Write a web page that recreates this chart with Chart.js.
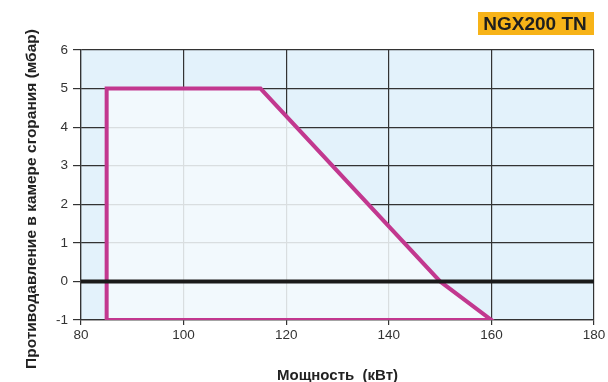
<!DOCTYPE html>
<html>
<head>
<meta charset="utf-8">
<script src="https://cdn.jsdelivr.net/npm/chart.js@4.4.0/dist/chart.umd.min.js"></script>
<style>
  html, body { margin: 0; padding: 0; background: #fff; }
  #wrap { width: 608px; height: 382px; position: relative; }
</style>
</head>
<body>
<div id="wrap"><canvas id="chart" width="608" height="382"></canvas></div>
<script>
// operating envelope (power kW, back pressure mbar)
const envelopePower = [85, 85, 115, 150, 160, 85];
const envelopePressure = [-1, 5, 5, 0, -1, -1];
const zeroLinePower = [80, 180];
const zeroLinePressure = [0, 0];
const xTicks = [80, 100, 120, 140, 160, 180];
const yTicks = [-1, 0, 1, 2, 3, 4, 5, 6];
const modelName = 'NGX200 TN';
const yTitle = 'Противодавление в камере сгорания (мбар)';

const toPoints = (xs, ys) => xs.map((x, i) => ({ x: x, y: ys[i] }));
const FONT = '"Liberation Sans", Arial, sans-serif';

const backdrop = {
  id: 'backdrop',
  beforeDraw(chart) {
    const { ctx, chartArea } = chart;
    ctx.save();
    ctx.fillStyle = '#e3f2fb';
    ctx.fillRect(chartArea.left, chartArea.top, chartArea.right - chartArea.left, chartArea.bottom - chartArea.top);
    // model badge
    ctx.fillStyle = '#f7b318';
    ctx.fillRect(478, 12, 116, 23);
    ctx.fillStyle = '#1e1e1e';
    ctx.font = 'bold 19px ' + FONT;
    ctx.textAlign = 'center';
    ctx.textBaseline = 'middle';
    ctx.fillText(modelName, 535, 24.5);
    // y axis title (sits a bit lower than the axis centre in the original)
    ctx.translate(32, 199);
    ctx.rotate(-Math.PI / 2);
    ctx.fillStyle = '#222';
    ctx.font = 'bold 15.5px ' + FONT;
    ctx.fillText(yTitle, 0, 0);
    ctx.restore();
  }
};

const ctx = document.getElementById('chart').getContext('2d');
new Chart(ctx, {
  type: 'scatter',
  data: {
    datasets: [
      {
        data: toPoints(zeroLinePower, zeroLinePressure),
        showLine: true,
        borderColor: '#1a1a1a',
        borderWidth: 4,
        pointRadius: 0,
        fill: false,
        order: 1
      },
      {
        data: toPoints(envelopePower, envelopePressure),
        showLine: true,
        borderColor: '#c2388f',
        borderWidth: 4,
        borderJoinStyle: 'miter',
        backgroundColor: 'rgba(245, 250, 253, 0.86)',
        pointRadius: 0,
        fill: 'shape',
        order: 2
      }
    ]
  },
  options: {
    responsive: false,
    animation: false,
    layout: { padding: { top: 50, right: 14, left: 0, bottom: 0 } },
    plugins: {
      legend: { display: false },
      tooltip: { enabled: false }
    },
    scales: {
      x: {
        type: 'linear',
        min: 80,
        max: 180,
        afterBuildTicks: (axis) => { axis.ticks = xTicks.map(v => ({ value: v })); },
        afterFit: (axis) => { axis.height = 62; },
        grid: { color: '#333', lineWidth: 1.2, tickLength: 5, drawTicks: true },
        border: { color: '#333', width: 1.2 },
        ticks: {
          color: '#333',
          padding: 2,
          autoSkip: false,
          maxRotation: 0,
          font: { family: FONT, size: 13.5 }
        },
        title: {
          display: true,
          text: 'Мощность  (кВт)',
          color: '#222',
          padding: { top: 0, bottom: -3 },
          font: { family: FONT, size: 15, weight: 'bold' }
        }
      },
      y: {
        type: 'linear',
        min: -1,
        max: 6,
        afterBuildTicks: (axis) => { axis.ticks = yTicks.map(v => ({ value: v })); },
        afterFit: (axis) => { axis.width = 81; },
        grid: { color: '#333', lineWidth: 1.2, tickLength: 8, drawTicks: true },
        border: { color: '#333', width: 1.2 },
        ticks: {
          color: '#333',
          padding: 5,
          autoSkip: false,
          font: { family: FONT, size: 13.5 }
        },
        title: { display: false }
      }
    }
  },
  plugins: [backdrop]
});
</script>
</body>
</html>
